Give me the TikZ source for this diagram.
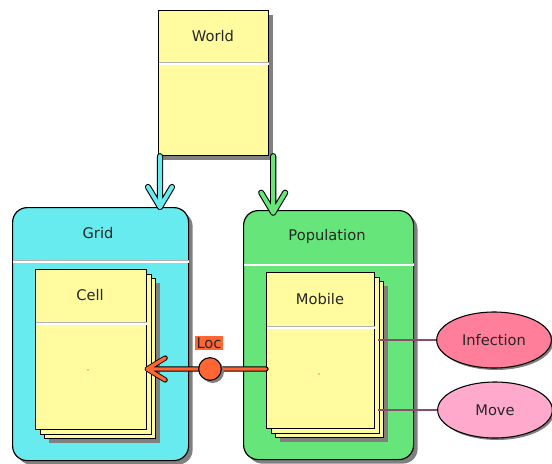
\documentclass[tikz,border=0pt]{standalone}
\usepackage{fontspec}
\setmainfont{DejaVu Sans}
\usetikzlibrary{shapes.geometric,shadows,calc}

\definecolor{classyellow}{HTML}{FFFB9E}
\definecolor{gridcyan}{HTML}{68EBEE}
\definecolor{popgreen}{HTML}{66E67A}
\definecolor{locorange}{HTML}{FF6633}
\definecolor{infpink}{HTML}{FF7F9A}
\definecolor{movepink}{HTML}{FFAACD}
\definecolor{linkmauve}{HTML}{8E4C6C}

\tikzset{
  boxshadow/.style={drop shadow={shadow xshift=3pt,shadow yshift=-3pt,fill=black!50,opacity=1}},
  classbox/.style={draw=black, fill=classyellow, line width=0.9pt, inner sep=0pt, anchor=north west},
  groupbox/.style={draw=black, fill=#1, line width=0.9pt, inner sep=0pt, anchor=north west, rounded corners=11pt, boxshadow},
  title/.style={font=\fontsize{11}{13}\selectfont, text=black!85},
  actor/.style={ellipse, draw=black, fill=#1, line width=0.8pt, minimum width=86pt, minimum height=42pt, drop shadow={shadow xshift=1.5pt,shadow yshift=-1.5pt,fill=black!50,opacity=1}},
  flowarrow/.style={draw=#1, line width=3pt, line cap=round, line join=round,
    preaction={draw=black, line width=4.6pt, line cap=round, line join=round}},
  locarrow/.style={draw=locorange, line width=2.6pt, line cap=round, line join=round,
    preaction={draw=black, line width=3.9pt, line cap=round, line join=round}},
  link/.style={draw=linkmauve, line width=2pt},
}
\newcommand\classsep[2]{\draw[gray!60, line width=0.8pt] ($(#1.north west)+(0.6,#2)$) -- ($(#1.north east)+(-0.6,#2)$);
  \draw[white, line width=0.8pt] ($(#1.north west)+(0.6,#2+1)$) -- ($(#1.north east)+(-0.6,#2+1)$);}

\begin{document}
\begin{tikzpicture}[x=0.75pt, y=-0.75pt]
    \useasboundingbox (0,0) rectangle (552,463);
    % GROUPS
    \node[groupbox=gridcyan, minimum width=132pt, minimum height=189.75pt] (Grid) at (12,207) {};
    \node[title] (gridtitle) at (98,233) {Grid};
    \classsep{Grid}{54}
    \node[groupbox=popgreen, minimum width=127.5pt, minimum height=186.75pt] (Population) at (243,210) {};
    \node[title] (poptitle) at (327,236) {Population};
    \classsep{Population}{54}
    % CELL
    \node[classbox, boxshadow, minimum width=83.25pt, minimum height=120pt] (cellback) at (44,278) {};
    \node[classbox, minimum width=83.25pt, minimum height=120pt] (cellmid) at (39.5,273.5) {};
    \node[classbox, minimum width=83.25pt, minimum height=120pt] (Cell) at (35,269) {};
    \node[title] (celltitle) at (90,295) {Cell};
    \classsep{Cell}{54}
    % MOBILE
    \node[classbox, boxshadow, minimum width=81pt, minimum height=117pt] (mobileback) at (275,281) {};
    \node[classbox, minimum width=81pt, minimum height=117pt] (mobilemid) at (270.5,276.5) {};
    \node[classbox, minimum width=81pt, minimum height=117pt] (Mobile) at (266,272) {};
    \node[title] (mobiletitle) at (320,299) {Mobile};
    \classsep{Mobile}{55}
    \fill[red] (88,370) circle (0.5pt);
    \fill[red] (319,374) circle (0.5pt);
    % WORLD
    \node[classbox, boxshadow, minimum width=82.5pt, minimum height=108.75pt] (World) at (158,10) {};
    \node[title] (worldtitle) at (213,36) {World};
    \classsep{World}{53}
    \path[flowarrow=gridcyan] ([xshift=1.5pt]World.south west) coordinate (g0)
        -- (g0 |- Grid.north) coordinate (g1) -- ++(-12,-20) (g1) -- ++(12,-20);
    \path[flowarrow=popgreen] ([xshift=3pt]World.south east) coordinate (p0)
        -- ([yshift=-2pt]p0 |- Population.north) coordinate (p1) -- ++(-12,-20) (p1) -- ++(12,-20);
    % ACTORS
    \node[actor=infpink] (Infection) at (494,340) {};
    \node[title] (inftitle) at (Infection) {Infection};
    \node[actor=movepink] (Move) at (495,410) {};
    \node[title] (movetitle) at (Move) {Move};
    \draw[link] ([xshift=2pt]Mobile.east |- Infection.west) -- (Infection.west);
    \draw[link] ([xshift=2pt]Mobile.east |- Move.west) -- (Move.west);
    % LOC
    \coordinate (locpt) at (210,369);
    \path[locarrow] (Mobile.west |- locpt) -- (Cell.east |- locpt) coordinate (c1) -- ++(18,-11) (c1) -- ++(18,11);
    \node[circle, draw=black, fill=locorange, line width=0.8pt, minimum size=17pt, inner sep=0pt,
        drop shadow={shadow xshift=2pt,shadow yshift=-2pt,fill=black!50,opacity=1}] (loc) at (locpt) {};
    \node[title, fill=locorange, inner sep=1.5pt] (loclabel) at (209,343) {Loc};
\end{tikzpicture}
\end{document}
